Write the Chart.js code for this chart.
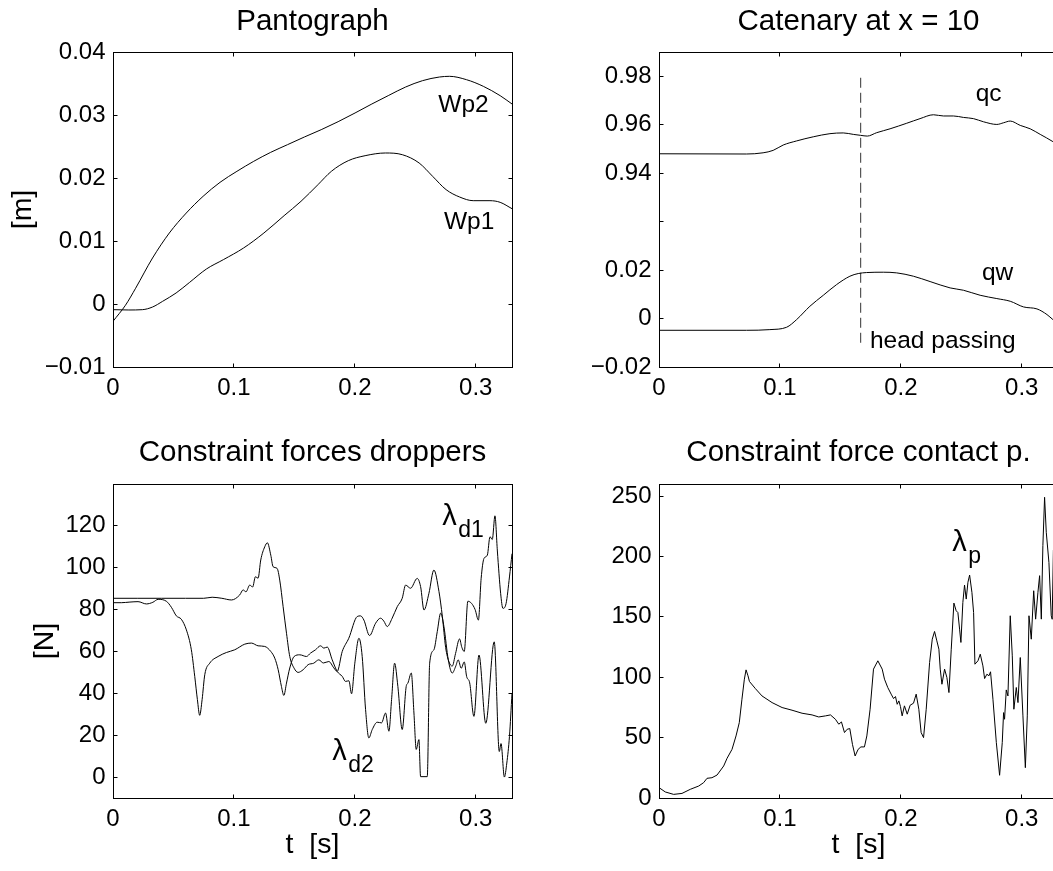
<!DOCTYPE html>
<html><head><meta charset="utf-8">
<script src="https://cdn.jsdelivr.net/npm/chart.js@4.4.1/dist/chart.umd.min.js"></script>
<style>
html,body{margin:0;padding:0;background:#fff;width:1053px;height:871px;overflow:hidden;position:relative;}
canvas{position:absolute;left:0;top:0;}
</style></head><body>
<canvas id="cTL" width="1100" height="871"></canvas>
<canvas id="cTR" width="1100" height="871"></canvas>
<canvas id="cBL" width="1100" height="871"></canvas>
<canvas id="cBR" width="1100" height="871"></canvas>
<script>
// ---------- tick labels ----------
const xTicks = [0, 0.1, 0.2, 0.3];
const xTickLabels = ['0', '0.1', '0.2', '0.3'];
const tlYTicks = [-0.01, 0, 0.01, 0.02, 0.03, 0.04];
const tlYLabels = ['\u22120.01', '0', '0.01', '0.02', '0.03', '0.04'];
const trYTicks = [-0.02, 0, 0.02, 0.04, 0.06, 0.08, 0.10];
const trYLabels = ['\u22120.02', '0', '0.02', '', '0.94', '0.96', '0.98'];
const blYTicks = [0, 20, 40, 60, 80, 100, 120];
const blYLabels = ['0', '20', '40', '60', '80', '100', '120'];
const brYTicks = [0, 50, 100, 150, 200, 250];
const brYLabels = ['0', '50', '100', '150', '200', '250'];

// ---------- Pantograph ----------
const wp2T = [0, 0.0103, 0.0187, 0.0327, 0.0466, 0.0606, 0.0745, 0.0885, 0.1025, 0.1164, 0.1304, 0.1443, 0.1583, 0.1722, 0.1862, 0.2002, 0.2141, 0.2281, 0.2420, 0.2560, 0.2700, 0.2783, 0.2923, 0.3063, 0.3202, 0.33];
const wp2 = [-0.00275, -0.0002, 0.0025, 0.0073, 0.01127, 0.01444, 0.01709, 0.01931, 0.02106, 0.02265, 0.02407, 0.02529, 0.02651, 0.02767, 0.02894, 0.03032, 0.03175, 0.03312, 0.03444, 0.03545, 0.03603, 0.03614, 0.03561, 0.03455, 0.03307, 0.03175];
const wp1T = [0, 0.0131, 0.0243, 0.0327, 0.0410, 0.0522, 0.0634, 0.0773, 0.0913, 0.1080, 0.1248, 0.1415, 0.1555, 0.1695, 0.1806, 0.1946, 0.2085, 0.2253, 0.2393, 0.2532, 0.2644, 0.2755, 0.2867, 0.2979, 0.3118, 0.3202, 0.33];
const wp1 = [-0.0009, -0.00095, -0.0009, -0.00048, 0.00042, 0.00175, 0.00344, 0.00556, 0.00704, 0.00889, 0.01127, 0.01402, 0.01630, 0.01894, 0.02106, 0.02275, 0.02354, 0.02397, 0.02370, 0.02238, 0.02026, 0.01815, 0.01698, 0.01640, 0.01640, 0.01614, 0.01513];

// ---------- Catenary at x = 10 ----------
const QC_SHIFT = 0.88; // broken axis: qc drawn shifted down by this amount
const qcT = [0, 0.0723, 0.0861, 0.0944, 0.1027, 0.1138, 0.1276, 0.1414, 0.1524, 0.1607, 0.1668, 0.1723, 0.1800, 0.1911, 0.2049, 0.2159, 0.2270, 0.2353, 0.2435, 0.2518, 0.2601, 0.2684, 0.2794, 0.2850, 0.2905, 0.2988, 0.3070, 0.3153, 0.3258, 0.33];
const qc = [0.9480, 0.9479, 0.9484, 0.9494, 0.9516, 0.9533, 0.9550, 0.9563, 0.9566, 0.9560, 0.9556, 0.9553, 0.9567, 0.9583, 0.9606, 0.9625, 0.9641, 0.9636, 0.9636, 0.9630, 0.9625, 0.9612, 0.9601, 0.9608, 0.9615, 0.9597, 0.9583, 0.9560, 0.9530, 0.9515];
const qwT = [0, 0.0723, 0.0917, 0.1055, 0.1138, 0.1248, 0.1359, 0.1469, 0.1579, 0.1648, 0.1717, 0.1855, 0.1966, 0.2104, 0.2242, 0.2408, 0.2518, 0.2656, 0.2794, 0.2905, 0.3015, 0.3126, 0.3209, 0.3258, 0.33];
const qw = [-0.00485, -0.00485, -0.00457, -0.00361, -0.00044, 0.00507, 0.00961, 0.01402, 0.01747, 0.01857, 0.01898, 0.01912, 0.01884, 0.01747, 0.01526, 0.01264, 0.01168, 0.00961, 0.00824, 0.00713, 0.00479, 0.00397, 0.00163, -0.00044, -0.0020];
const headPassT = 0.1668;
const headPassY = [-0.010, 0.100];

// ---------- Constraint forces droppers ----------
const d1T = [0, 0.02, 0.04, 0.06, 0.075, 0.082, 0.09, 0.098, 0.1048, 0.1076, 0.1100, 0.1131, 0.1155, 0.1178, 0.1200, 0.1222, 0.1255, 0.1277, 0.1305, 0.1324, 0.1357, 0.1379, 0.1407, 0.1435, 0.1462, 0.1498, 0.1531, 0.1573, 0.1614, 0.1660, 0.1702, 0.1740, 0.1785, 0.1827, 0.1854, 0.1896, 0.1950, 0.2020, 0.2047, 0.2075, 0.2122, 0.2172, 0.2213, 0.2240, 0.2268, 0.2309, 0.2351, 0.2392, 0.2420, 0.2461, 0.2516, 0.2544, 0.2572, 0.2613, 0.2654, 0.2696, 0.2724, 0.2751, 0.2779, 0.2806, 0.2833, 0.2866, 0.2885, 0.2905, 0.2935, 0.2965, 0.2995, 0.3022, 0.3045, 0.3068, 0.3096, 0.3118, 0.3137, 0.3159, 0.3179, 0.3206, 0.3225, 0.3251, 0.3279, 0.33];
const d1 = [85.4, 85.4, 85.4, 85.4, 85.4, 85.9, 85.4, 84.6, 87.0, 89.4, 88.5, 91.7, 90.8, 95.7, 95.0, 103.7, 110.0, 111.9, 106.0, 100.5, 99.7, 94.1, 81.4, 68.7, 57.6, 52.0, 50.0, 51.3, 53.7, 54.4, 56.0, 54.5, 55.2, 52.1, 50.5, 60.0, 66.3, 76.7, 77.0, 75.0, 67.6, 73.5, 75.9, 74.5, 71.9, 75.9, 81.4, 85.4, 91.7, 90.2, 94.9, 91.0, 79.8, 87.8, 98.9, 88.6, 76.7, 62.0, 55.0, 53.0, 59.0, 66.0, 62.0, 60.0, 84.0, 83.0, 80.0, 75.0, 95.0, 104.4, 106.0, 114.8, 113.5, 124.8, 108.0, 87.8, 80.6, 82.9, 95.6, 106.7];
const d2T = [0, 0.0069, 0.0140, 0.0207, 0.0276, 0.0330, 0.0373, 0.0441, 0.0483, 0.0524, 0.0565, 0.0607, 0.0648, 0.0676, 0.0698, 0.0717, 0.0737, 0.0759, 0.0800, 0.0869, 0.0938, 0.1007, 0.1090, 0.1145, 0.1200, 0.1255, 0.1305, 0.1338, 0.1366, 0.1393, 0.1413, 0.1435, 0.1462, 0.1498, 0.1545, 0.1600, 0.1633, 0.1675, 0.1716, 0.1744, 0.1772, 0.1813, 0.1854, 0.1896, 0.1923, 0.1951, 0.1973, 0.2000, 0.2034, 0.2061, 0.2089, 0.2116, 0.2144, 0.2185, 0.2221, 0.2254, 0.2282, 0.2304, 0.2329, 0.2356, 0.2392, 0.2425, 0.2439, 0.2467, 0.2489, 0.2508, 0.2530, 0.2544, 0.2599, 0.2619, 0.2654, 0.2682, 0.2710, 0.2737, 0.2773, 0.2806, 0.2835, 0.2855, 0.2880, 0.2905, 0.2925, 0.2950, 0.2985, 0.3027, 0.3083, 0.3153, 0.3195, 0.3209, 0.3237, 0.3257, 0.3279, 0.33];
const d2 = [83.3, 83.3, 83.6, 83.8, 82.7, 83.5, 84.9, 84.0, 81.1, 77.0, 75.4, 70.3, 60.8, 48.1, 37.0, 29.5, 37.0, 48.9, 54.4, 57.6, 59.5, 60.8, 63.5, 64.0, 62.7, 62.4, 60.0, 56.8, 51.3, 43.3, 39.0, 44.9, 52.1, 57.6, 58.4, 57.6, 59.2, 60.8, 62.7, 61.6, 62.1, 56.0, 50.5, 48.1, 45.7, 46.0, 39.8, 54.4, 66.3, 57.6, 32.2, 18.7, 22.7, 26.2, 25.9, 30.6, 21.9, 37.0, 54.4, 43.3, 22.7, 43.3, 44.9, 49.7, 30.6, 13.2, 17.9, 0.2, 0.2, 54.4, 60.8, 69.5, 78.3, 71.9, 56.0, 49.7, 53.0, 56.0, 52.0, 55.0, 48.0, 45.0, 29.0, 58.3, 25.7, 64.6, 12.2, 16.0, 0.0, 6.7, 19.4, 40.0];

// ---------- Constraint force contact p. ----------
const pT = [0, 0.0052, 0.0121, 0.0190, 0.0259, 0.0328, 0.0369, 0.0397, 0.0438, 0.0480, 0.0535, 0.0563, 0.0604, 0.0637, 0.0664, 0.0686, 0.0706, 0.0720, 0.0736, 0.0748, 0.0797, 0.0852, 0.0935, 0.1018, 0.1100, 0.1183, 0.1266, 0.1321, 0.1377, 0.1418, 0.1459, 0.1487, 0.1509, 0.1534, 0.1556, 0.1578, 0.1600, 0.1622, 0.1647, 0.1670, 0.1699, 0.1719, 0.1746, 0.1774, 0.1810, 0.1846, 0.1865, 0.1892, 0.1920, 0.1940, 0.1956, 0.1970, 0.1984, 0.1997, 0.2011, 0.2030, 0.2053, 0.2077, 0.2105, 0.2127, 0.2149, 0.2168, 0.2188, 0.2210, 0.2238, 0.2260, 0.2279, 0.2298, 0.2315, 0.2326, 0.2340, 0.2362, 0.2381, 0.2398, 0.2417, 0.2439, 0.2458, 0.2472, 0.2486, 0.2497, 0.2513, 0.2527, 0.2541, 0.2555, 0.2569, 0.2588, 0.2602, 0.2613, 0.2638, 0.2657, 0.2679, 0.2693, 0.2712, 0.2729, 0.2742, 0.2762, 0.2790, 0.2817, 0.2839, 0.2850, 0.2858, 0.2872, 0.2886, 0.2905, 0.2922, 0.2935, 0.2955, 0.2969, 0.2988, 0.3010, 0.3030, 0.3046, 0.3060, 0.3079, 0.3099, 0.3115, 0.3134, 0.3148, 0.3162, 0.3175, 0.3189, 0.3203, 0.3225, 0.3244, 0.3252, 0.3262, 0.33];
const pForce = [8.6, 5.0, 3.0, 3.8, 7.2, 9.9, 12.7, 16.3, 16.8, 19.0, 26.5, 32.9, 40.3, 51.4, 62.4, 81.8, 98.4, 106.1, 101.2, 96.5, 90.6, 84.5, 79.0, 74.9, 72.7, 70.2, 68.8, 67.1, 68.0, 68.8, 65.2, 61.1, 63.0, 54.2, 56.9, 57.5, 44.4, 34.8, 40.3, 42.3, 42.3, 51.4, 73.5, 106.7, 113.6, 106.7, 98.4, 91.5, 86.0, 82.3, 84.0, 77.6, 80.4, 75.7, 68.0, 76.3, 69.4, 76.8, 78.5, 86.0, 73.5, 54.2, 50.0, 73.5, 112.2, 131.5, 137.9, 130.1, 123.2, 106.7, 94.2, 106.7, 99.8, 87.3, 123.2, 161.4, 155.0, 153.6, 139.8, 128.8, 161.9, 176.3, 164.7, 178.6, 184.6, 170.3, 153.6, 110.8, 113.6, 119.1, 109.4, 98.9, 102.5, 101.2, 104.5, 81.8, 45.9, 18.8, 45.9, 70.7, 65.2, 89.5, 84.5, 150.9, 117.7, 73.5, 91.5, 79.0, 116.3, 68.0, 25.1, 68.0, 150.9, 131.5, 171.6, 148.1, 170.3, 184.1, 148.1, 209.0, 249.0, 220.0, 195.0, 150.9, 148.0, 205.0, 190.0];

// ---------- text labels (positions in data units) ----------
const tlNotes = [{text: 'Wp2', x: 0.2899, y: 0.0305}, {text: 'Wp1', x: 0.2945, y: 0.0119}];
const trNotes = [{text: 'qc', x: 0.2726, y: 0.0898}, {text: 'qw', x: 0.2800, y: 0.0158}, {text: 'head passing', x: 0.1745, y: -0.0121, align: 'left'}];
const blNotes = [{text: '\u03bb', sub: 'd1', x: 0.2723, y: 120.6, align: 'left'}, {text: '\u03bb', sub: 'd2', x: 0.1814, y: 8.3, align: 'left'}];
const brNotes = [{text: '\u03bb', sub: 'p', x: 0.2426, y: 204.3, align: 'left'}];

// ---------- rendering ----------
const FONT = '"Liberation Sans", Arial, Helvetica, sans-serif';
const CW = 1100, CH = 871;
const TITLE_SIZE = 29.5, LABEL_SIZE = 28.5, TICK_SIZE = 24, NOTE_SIZE = 24.5, LAMBDA_SIZE = 29, SUB_SIZE = 23;
Chart.defaults.font.family = FONT;
Chart.defaults.color = '#000';

function series(ts, vs, shift) {
  return ts.map((t, i) => ({x: t, y: vs[i] - (shift || 0)}));
}
function lineDs(data, smooth, extra) {
  return Object.assign({data, borderColor: '#000', borderWidth: 1, pointRadius: 0,
    tension: smooth ? 0.4 : 0, cubicInterpolationMode: smooth ? 'monotone' : 'default', fill: false}, extra || {});
}

const framePlugin = {
  id: 'frame',
  afterDraw(chart) {
    const {ctx, chartArea: a} = chart;
    const xs = chart.scales.x, ys = chart.scales.y;
    const L = Math.floor(a.left) + 0.5, R = Math.floor(a.right) + 0.5;
    const T = Math.floor(a.top) + 0.5, B = Math.floor(a.bottom) + 0.5;
    ctx.save();
    ctx.strokeStyle = '#000';
    ctx.lineWidth = 1;
    ctx.strokeRect(L, T, R - L, B - T);
    const len = 4;
    ctx.beginPath();
    xs.ticks.forEach(t => {
      const x = Math.floor(xs.getPixelForValue(t.value)) + 0.5;
      ctx.moveTo(x, B); ctx.lineTo(x, B - len);
      ctx.moveTo(x, T); ctx.lineTo(x, T + len);
    });
    ys.ticks.forEach(t => {
      const y = Math.floor(ys.getPixelForValue(t.value)) + 0.5;
      ctx.moveTo(L, y); ctx.lineTo(L + len, y);
      ctx.moveTo(R, y); ctx.lineTo(R - len, y);
    });
    ctx.stroke();
    ctx.restore();
  }
};

const notesPlugin = {
  id: 'notes',
  afterDraw(chart, args, opts) {
    const items = opts.items || [];
    const {ctx} = chart;
    const xs = chart.scales.x, ys = chart.scales.y;
    ctx.save();
    ctx.fillStyle = '#000';
    ctx.textBaseline = 'alphabetic';
    items.forEach(it => {
      const px = xs.getPixelForValue(it.x), py = ys.getPixelForValue(it.y);
      const size = it.sub ? LAMBDA_SIZE : NOTE_SIZE;
      ctx.font = size + 'px ' + FONT;
      ctx.textAlign = it.align || 'center';
      ctx.fillText(it.text, px, py);
      if (it.sub) {
        const w = ctx.measureText(it.text).width;
        ctx.font = SUB_SIZE + 'px ' + FONT;
        ctx.textAlign = 'left';
        ctx.fillText(it.sub, px + w + 1.5, py + 12);
      }
    });
    ctx.restore();
  }
};

function makeChart(id, s) {
  const leftCol = s.box.left < 300;
  const yW = leftCol ? s.box.left : 80;
  const xH = s.xTitle ? CH - s.box.bottom : 50;
  const lh = TITLE_SIZE * 1.2;
  const padT = s.titleMid - lh / 2;
  return new Chart(document.getElementById(id), {
    type: 'line',
    data: {datasets: s.datasets},
    options: {
      responsive: false, animation: false, devicePixelRatio: 1, events: [],
      layout: {padding: {left: s.box.left - yW, right: CW - s.box.right, top: padT, bottom: CH - s.box.bottom - xH}},
      plugins: {
        legend: {display: false},
        tooltip: {enabled: false},
        title: {display: true, text: s.title, fullSize: false, color: '#000',
          font: {family: FONT, size: TITLE_SIZE, weight: 'normal', lineHeight: 1.2},
          padding: {top: 0, bottom: s.box.top - padT - lh}},
        notes: {items: s.notes}
      },
      scales: {
        x: {
          type: 'linear', min: 0, max: 0.33,
          grid: {display: false, drawTicks: false}, border: {display: false},
          afterBuildTicks: sc => { sc.ticks = xTicks.map(v => ({value: v})); },
          afterFit: sc => { sc.height = xH; },
          ticks: {autoSkip: false, maxRotation: 0, minRotation: 0, padding: 7.3, color: '#000',
            font: {family: FONT, size: TICK_SIZE}, callback: (v, i) => xTickLabels[i]},
          title: {display: !!s.xTitle, text: s.xTitle || '', color: '#000',
            font: {family: FONT, size: LABEL_SIZE, lineHeight: 1.2}, padding: {top: 0, bottom: 8.8}}
        },
        y: {
          type: 'linear', min: s.ymin, max: s.ymax,
          grid: {display: false, drawTicks: false}, border: {display: false},
          afterBuildTicks: sc => { sc.ticks = s.yTicks.map(v => ({value: v})); },
          afterFit: sc => { sc.width = yW; },
          ticks: {autoSkip: false, padding: 7.5, color: '#000',
            font: {family: FONT, size: TICK_SIZE}, callback: (v, i) => s.yLabels[i]},
          title: {display: !!s.yTitle, text: s.yTitle || '', color: '#000',
            font: {family: FONT, size: LABEL_SIZE, lineHeight: 1.2}, padding: {top: s.yTitlePad || 0, bottom: 0}}
        }
      }
    },
    plugins: [framePlugin, notesPlugin]
  });
}

makeChart('cTL', {
  box: {left: 113, top: 52, right: 512, bottom: 367}, titleMid: 22.3,
  title: 'Pantograph', yTitle: '[m]', yTitlePad: 5.9,
  ymin: -0.01, ymax: 0.04, yTicks: tlYTicks, yLabels: tlYLabels, notes: tlNotes,
  datasets: [lineDs(series(wp2T, wp2), true), lineDs(series(wp1T, wp1), true)]
});
makeChart('cTR', {
  box: {left: 659, top: 52, right: 1058, bottom: 367}, titleMid: 22.3,
  title: 'Catenary at x = 10',
  ymin: -0.02, ymax: 0.11, yTicks: trYTicks, yLabels: trYLabels, notes: trNotes,
  datasets: [
    lineDs(series(qcT, qc, QC_SHIFT), true),
    lineDs(series(qwT, qw), true),
    lineDs(headPassY.map(v => ({x: headPassT, y: v})), false, {borderDash: [10, 5], borderColor: '#333'})
  ]
});
makeChart('cBL', {
  box: {left: 113, top: 484, right: 512, bottom: 798}, titleMid: 452.8,
  title: 'Constraint forces droppers', xTitle: 't  [s]', yTitle: '[N]', yTitlePad: 28,
  ymin: -10, ymax: 140, yTicks: blYTicks, yLabels: blYLabels, notes: blNotes,
  datasets: [lineDs(series(d1T, d1), true), lineDs(series(d2T, d2), true)]
});
makeChart('cBR', {
  box: {left: 659, top: 484, right: 1058, bottom: 798}, titleMid: 452.8,
  title: 'Constraint force contact p.', xTitle: 't  [s]',
  ymin: 0, ymax: 260, yTicks: brYTicks, yLabels: brYLabels, notes: brNotes,
  datasets: [lineDs(series(pT, pForce), false)]
});
</script>
</body></html>
